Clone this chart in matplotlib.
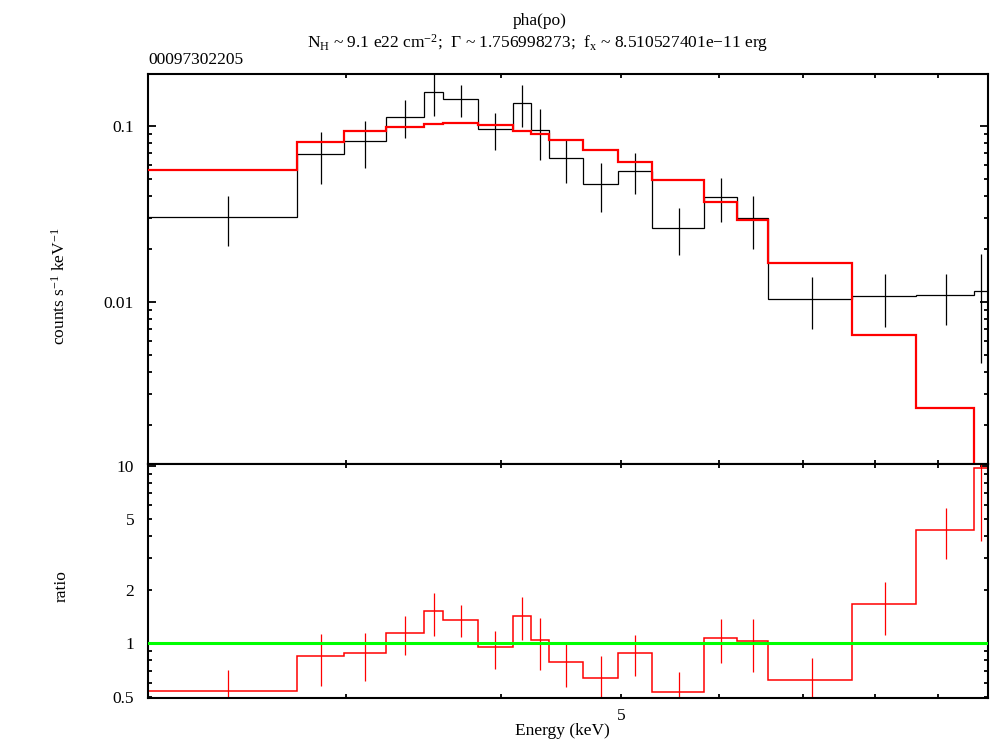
import numpy as np
import matplotlib
matplotlib.use("Agg")
import matplotlib.pyplot as plt

plt.rcParams['font.family'] = ['Liberation Serif', 'DejaVu Serif']
plt.rcParams['mathtext.fontset'] = 'custom'
plt.rcParams['mathtext.rm'] = 'Liberation Serif'
plt.rcParams['mathtext.it'] = 'Liberation Serif:italic'
plt.rcParams['mathtext.bf'] = 'Liberation Serif:bold'

# ---- data ----
edges = [2.08, 2.744, 2.991, 3.232, 3.471, 3.593, 3.833, 4.090, 4.229, 4.372,
         4.660, 4.971, 5.292, 5.836, 6.198, 6.568, 7.673, 8.636, 9.620, 9.873]
counts = [0.0304, 0.0691, 0.0819, 0.1125, 0.1546, 0.1411, 0.0954, 0.1339, 0.0942, 0.0654,
          0.0469, 0.0554, 0.0262, 0.0395, 0.0299, 0.0104, 0.0108, 0.0109, 0.0116]
errors = [0.0095, 0.0226, 0.0244, 0.0272, 0.042, 0.029, 0.023, 0.036, 0.0306, 0.018,
          0.0147, 0.0146, 0.0078, 0.011, 0.0099, 0.0034, 0.0036, 0.0035, 0.0071]
model = [0.0563, 0.0812, 0.0933, 0.0987, 0.1022, 0.1040, 0.1005, 0.0937, 0.0901, 0.0833,
         0.0731, 0.0625, 0.0491, 0.0370, 0.0292, 0.01676, 0.00647, 0.002497, 0.00120]

title1 = "pha(po)"
title2 = r"N$_\mathrm{H}$ ~ 9.1 e22 cm$^{-2}$;  Γ ~ 1.756998273;  f$_\mathrm{x}$ ~ 8.510527401e−11 erg"
obsid = "00097302205"

e = np.array(edges)
c = np.array(counts)
er = np.array(errors)
m = np.array(model)
centers = 0.5 * (e[:-1] + e[1:])
ratio = c / m
ratio_err = er / m

W, H = 990, 742
fig = plt.figure(figsize=(W / 100, H / 100), dpi=100)

def fx(x):
    return x / W

def fy(y):
    return 1 - y / H

L, R, T, MID, B = 148, 988, 74, 464, 698
ax1 = fig.add_axes([fx(L), fy(MID), (R - L) / W, (MID - T) / H])
ax2 = fig.add_axes([fx(L), fy(B), (R - L) / W, (B - MID) / H], sharex=ax1)

FS = 12.5

# top panel
ax1.stairs(c, e, baseline=None, color='black', lw=0.9)
ax1.vlines(centers, c - er, c + er, color='black', lw=0.9)
ax1.stairs(m, e, baseline=None, color='#ff0000', lw=1.6, zorder=3)
ax1.set_xscale('log')
ax1.set_yscale('log')
ax1.set_xlim(2.08, 9.873)
ax1.set_ylim(0.00121, 0.196)
ax1.set_yticks([0.01, 0.1], labels=['0.01', '0.1'])
yminor1 = [k * 10.0 ** p for p in (-3, -2, -1) for k in range(2, 10)]
ax1.set_yticks([v for v in yminor1 if 0.00121 < v < 0.196], minor=True)
ax1.yaxis.set_minor_formatter(matplotlib.ticker.NullFormatter())

# bottom panel
ax2.stairs(ratio, e, baseline=None, color='#ff0000', lw=1.1)
ax2.vlines(centers, ratio - ratio_err, ratio + ratio_err, color='#ff0000', lw=0.9)
ax2.axhline(1.0, color='#00ff00', lw=2.2, zorder=4)
ax2.set_yscale('log')
ax2.set_ylim(0.492, 10.2)
ax2.set_yticks([1, 10], labels=['1', '10'])
yminor2 = [0.5, 0.6, 0.7, 0.8, 0.9, 2, 3, 4, 5, 6, 7, 8, 9]
ax2.set_yticks(yminor2, labels=['0.5', '', '', '', '', '2', '', '', '5', '', '', '', ''], minor=True)

xminor = [3, 4, 5, 6, 7, 8, 9]
ax1.xaxis.set_major_locator(matplotlib.ticker.NullLocator())
ax1.set_xticks(xminor, minor=True)
ax2.set_xticks(xminor, labels=['', '', '5', '', '', '', ''], minor=True)
ax1.tick_params(axis='x', which='minor', labelbottom=False)

for ax in (ax1, ax2):
    for s in ax.spines.values():
        s.set_linewidth(1.5)
    ax.tick_params(which='both', direction='in', top=True, right=True,
                   width=1.3, labelsize=FS, colors='black')
    ax.tick_params(which='major', length=6)
    ax.tick_params(which='minor', length=3)
    ax.tick_params(axis='y', which='both', pad=10)
    ax.tick_params(axis='x', which='both', pad=7)

# texts
fig.text(fx(540), fy(21), title1, ha='center', va='center', fontsize=FS)
fig.text(fx(538), fy(43), title2, ha='center', va='center', fontsize=FS)
fig.text(fx(148), fy(60), obsid, ha='left', va='center', fontsize=FS)
fig.text(fx(60), fy(286), r"counts s$^{-1}$ keV$^{-1}$", ha='center', va='center',
         rotation=90, fontsize=FS)
fig.text(fx(62), fy(586), "ratio", ha='center', va='center', rotation=90, fontsize=FS)
fig.text(fx(562), fy(731), "Energy (keV)", ha='center', va='center', fontsize=FS)

fig.savefig("out.png", dpi=100)
